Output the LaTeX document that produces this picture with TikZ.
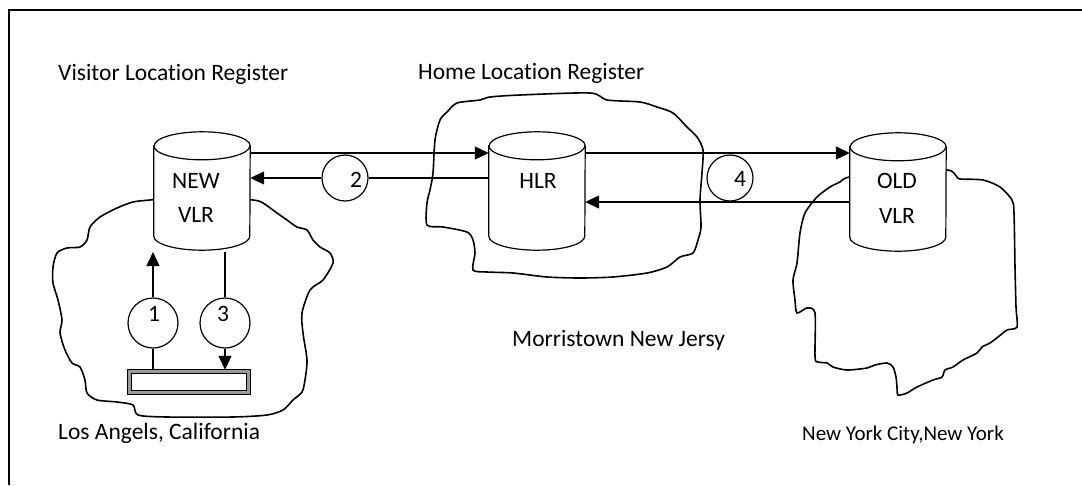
\documentclass[tikz,border=0pt]{standalone}
\usepackage{fontspec}
\setmainfont{Carlito}[Ligatures={NoCommon}]
\usetikzlibrary{arrows.meta}
\begin{document}
\begin{tikzpicture}[x=1pt,y=-1pt,
  conn/.style={line width=1.2pt},
  arr/.style={line width=1.2pt,-{Triangle[length=14pt,width=13pt]}},
  cloud/.style={line width=1.6pt},
  numcirc/.style={circle,draw,line width=1.2pt,fill=white,inner sep=0pt},
  txt/.style={anchor=west,inner sep=0pt,font=\fontsize{23.5}{28}\selectfont},
  cyltext/.style={font=\fontsize{23.5}{28}\selectfont,inner sep=0pt},
  cylbox/.style={rectangle,minimum width=96pt,minimum height=118pt,inner sep=0pt}]
\useasboundingbox (0,0) rectangle (1082,485);
% frame
\draw[line width=1.8pt] (1082,10) -- (9,10) -- (9,485);

% clouds
\draw[cloud] plot[smooth cycle,tension=0.45] coordinates {
(150,200)(133,202)(117,208)(100,217)(90,227)(87,240)(80,247)(67,248)(57,253)(53,267)(53,283)(58,300)(62,320)(60,333)(65,350)(72,363)(80,367)(85,380)(87,393)(97,400)(117,402)(133,405)(138,415)(167,417)(233,417)(267,415)(283,410)(293,400)(302,392)(305,380)(307,360)(303,333)(302,313)(310,290)(323,280)(333,263)(330,253)(320,247)(313,240)(307,230)(297,227)(287,220)(277,213)(263,203)(253,200)(202,195)};
\draw[cloud] plot[smooth cycle,tension=0.45] coordinates {
(447,112)(457,103)(480,100)(490,97)(520,95)(590,93)(607,100)(640,102)(657,107)(673,113)(687,127)(697,137)(703,150)(702,173)(700,200)(701,227)(698,240)(693,253)(680,257)(667,267)(647,273)(613,277)(580,278)(547,277)(513,273)(487,272)(473,270)(475,253)(473,240)(467,232)(443,227)(427,225)(427,203)(430,190)(433,173)(435,140)(440,120)};
\draw[cloud] plot[smooth cycle,tension=0.45] coordinates {
(947,170)(957,177)(960,179)(983,180)(1000,187)(1012,200)(1014,213)(1015,267)(1016,307)(1017,327)(1007,330)(998,337)(990,343)(982,347)(977,353)(963,360)(953,367)(945,370)(942,377)(933,380)(917,387)(907,393)(898,395)(897,387)(896,377)(893,367)(887,363)(875,365)(867,368)(847,370)(833,367)(827,363)(818,362)(815,357)(815,313)(807,308)(797,313)(795,300)(793,280)(797,263)(800,233)(805,213)(817,197)(830,187)(840,182)(850,177)(898,175)};

% cylinders
\node[cylbox] (newvlr) at (202,191) {};
\node[cylbox] (hlr) at (537,191) {};
\node[cylbox] (oldvlr) at (898,192) {};
\foreach \c in {newvlr,hlr,oldvlr}{
  \draw[line width=1.2pt,fill=white]
    ([yshift=-14pt]\c.north west) -- ([yshift=14pt]\c.south west)
    arc[start angle=180,end angle=360,x radius=48pt,y radius=14pt]
    -- ([yshift=-14pt]\c.north east)
    arc[start angle=0,end angle=180,x radius=48pt,y radius=14pt] -- cycle;
  \draw[line width=1.2pt] ([yshift=-14pt]\c.north west)
    arc[start angle=180,end angle=360,x radius=48pt,y radius=14pt];
}
\node[cyltext] (newt) at (196,181) {NEW};
\node[cyltext] (newv) at (196,215) {VLR};
\node[cyltext] (hlrt) at (538,181) {HLR};
\node[cyltext] (oldt) at (897,181) {OLD};
\node[cyltext] (oldv) at (897,216) {VLR};

% bar
\node[rectangle,minimum width=122pt,minimum height=24pt,inner sep=0pt] (bar) at (189,382) {};
\draw[line width=1pt,fill=gray!80] (bar.north west) rectangle (bar.south east);
\draw[line width=1pt,fill=white] ([xshift=4pt,yshift=-3.5pt]bar.north west) rectangle ([xshift=-4pt,yshift=3.5pt]bar.south east);

% numbered circles
\node[numcirc,minimum size=50pt] (c1) at (153,323) {};
\node[numcirc,minimum size=50pt] (c3) at (225,323) {};
\node[numcirc,minimum size=46pt] (c2) at (345,178) {};
\node[numcirc,minimum size=46pt] (c4) at (730,178) {};
\node[cyltext] (l1) at (154,314) {1};
\node[cyltext] (l3) at (223,314) {3};
\node[cyltext] (l2) at (356,180) {2};
\node[cyltext] (l4) at (740,179) {4};

% connectors
\draw[conn] (c1.south |- bar.north) -- (c1.south);
\draw[arr] (c1.north) -- (c1.north |- 0,252);
\draw[conn] (c3.north |- 0,252) -- (c3.north);
\draw[arr] (c3.south) -- (c3.south |- bar.north);

\draw[arr] ([yshift=38pt]newvlr.east) -- ([yshift=38pt]hlr.west);
\draw[conn] ([yshift=13pt]hlr.west) -- (c2.east);
\draw[arr] (c2.west) -- ([yshift=13pt]newvlr.east);

\draw[arr] ([yshift=38pt]hlr.east) -- ([yshift=39pt]oldvlr.west);
\draw[arr] ([yshift=-10pt]oldvlr.west) -- ([yshift=-11pt]hlr.east);

% texts
\node[txt] (tvis) at (58,74) {Visitor Location Register};
\node[txt] (thome) at (418,73) {Home Location Register};
\node[txt] (tla) at (58,433) {Los Angels, California};
\node[txt] (tmor) at (512,340) {Morristown New Jersy};
\node[txt,font=\fontsize{21}{25}\selectfont] (tny) at (802,435) {New York City,New York};
\end{tikzpicture}
\end{document}
